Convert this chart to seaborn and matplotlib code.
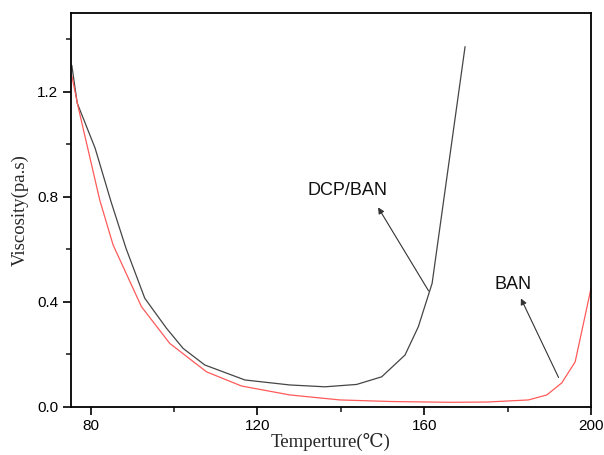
import numpy as np
import pandas as pd
import seaborn as sns
import matplotlib.pyplot as plt
from matplotlib.ticker import MultipleLocator

# DCP/BAN curve (black)
dcp_temp = [75.5, 76.8, 81.1, 84.9, 88.5, 93.0, 98.2, 102.2, 107.4, 117.0, 127.8,
            136.2, 143.8, 149.8, 155.4, 158.6, 161.9, 169.8]
dcp_visc = [1.30, 1.156, 0.984, 0.781, 0.603, 0.413, 0.299, 0.222, 0.159, 0.102, 0.083,
            0.076, 0.085, 0.114, 0.197, 0.305, 0.47, 1.371]

# BAN curve (red)
ban_temp = [75.5, 77.0, 82.2, 85.4, 92.2, 99.0, 107.8, 116.2, 127.8, 139.8, 152.0,
            166.2, 175.0, 185.0, 189.4, 193.0, 196.2, 200.0]
ban_visc = [1.26, 1.143, 0.787, 0.616, 0.381, 0.241, 0.133, 0.079, 0.045, 0.026, 0.020,
            0.017, 0.018, 0.026, 0.045, 0.091, 0.171, 0.451]

df = pd.concat([
    pd.DataFrame({'Temp': dcp_temp, 'Visc': dcp_visc, 'Sample': 'DCP/BAN'}),
    pd.DataFrame({'Temp': ban_temp, 'Visc': ban_visc, 'Sample': 'BAN'}),
])

sns.set_theme(style="ticks")
plt.rcParams['font.family'] = ['Liberation Sans', 'DejaVu Sans']

fig = plt.figure(figsize=(6.04, 4.55), dpi=100)
ax = fig.add_axes([0.1175, 0.106, 0.861, 0.866])

sns.lineplot(data=df, x='Temp', y='Visc', hue='Sample', sort=False,
             palette={'DCP/BAN': '#454545', 'BAN': '#ff5a5a'}, linewidth=0.9,
             legend=False, ax=ax)

ax.set_xlim(75.3, 200)
ax.set_ylim(0, 1.5)
ax.xaxis.set_major_locator(MultipleLocator(40))
ax.xaxis.set_minor_locator(MultipleLocator(20))
ax.yaxis.set_major_locator(MultipleLocator(0.4))
ax.yaxis.set_minor_locator(MultipleLocator(0.2))
ax.tick_params(which='major', direction='out', length=6, width=1.2, labelsize=11,
               colors='black', pad=3)
ax.tick_params(which='minor', direction='out', length=3.5, width=1.2)
for s in ax.spines.values():
    s.set_linewidth(1.3)
    s.set_color('black')

serif = ['Liberation Serif', 'DejaVu Serif']
ax.set_xlabel('Temperture(℃)', family=serif, fontsize=13.5, labelpad=0)
ax.set_ylabel('Viscosity(pa.s)', family=serif, fontsize=13.5, labelpad=6)

arrow = dict(arrowstyle='-|>', color='#333333', lw=0.8, mutation_scale=9)
ax.annotate('', xy=(148.6, 0.768), xytext=(161.4, 0.432), arrowprops=arrow)
ax.text(141.5, 0.822, 'DCP/BAN', ha='center', va='center', fontsize=13, color='#111111')
ax.annotate('', xy=(182.9, 0.422), xytext=(192.5, 0.102), arrowprops=arrow)
ax.text(181.2, 0.464, 'BAN', ha='center', va='center', fontsize=13, color='#111111')

fig.savefig('out.png', dpi=100)
